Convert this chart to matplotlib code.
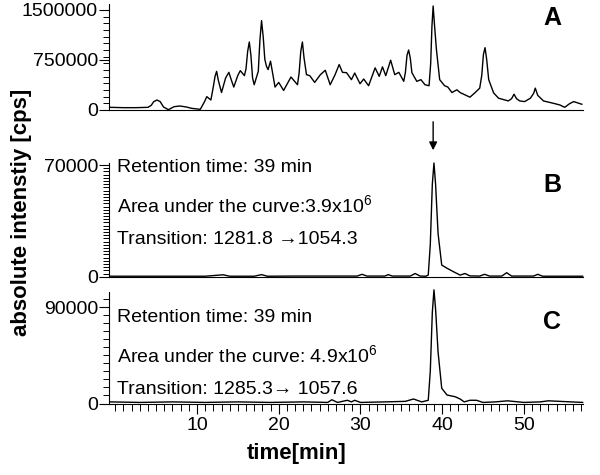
from matplotlib import pyplot as plt
from matplotlib.ticker import MultipleLocator

plt.rcParams['font.family'] = ['Liberation Sans', 'DejaVu Sans']
plt.rcParams['mathtext.fontset'] = 'custom'
plt.rcParams['mathtext.rm'] = 'Liberation Sans'
plt.rcParams['mathtext.it'] = 'Liberation Sans'

# trace A: total ion chromatogram (time in min, intensity in cps)
timeA = [-0.6, 1.0, 2.5, 4.0, 4.4, 4.7, 5.1, 5.5, 5.9, 6.5, 7.2, 7.9, 8.7, 9.35, 10.4,
         10.9, 11.2, 11.7, 12.0, 12.2, 12.4, 12.6, 13.0, 13.5, 13.9, 14.2, 14.5, 15.0,
         15.3, 15.8, 16.0, 16.2, 16.4, 16.6, 16.8, 17.0, 17.5, 17.7, 17.9, 18.1, 18.3,
         18.5, 18.7, 19.0, 19.55, 20.0, 20.6, 21.5, 22.3, 22.5, 22.7, 22.9, 23.1, 23.4,
         23.8, 24.4, 25.1, 25.7, 26.3, 26.9, 27.4, 27.8, 28.3, 28.9, 29.3, 29.95, 30.4,
         31.0, 31.8, 32.3, 32.7, 33.1, 33.7, 34.2, 34.7, 35.3, 35.5, 35.7, 35.9, 36.1,
         36.3, 36.9, 37.4, 37.9, 38.4, 38.6, 38.75, 38.9, 39.05, 39.3, 39.7, 40.3, 40.7,
         41.2, 41.8, 42.2, 42.8, 43.4, 44.0, 44.6, 44.85, 45.05, 45.25, 45.45, 45.7, 46.3,
         46.9, 48.1, 48.5, 48.8, 49.1, 49.5, 50.1, 50.8, 51.2, 51.4, 51.7, 52.4, 53.6,
         54.4, 55.0, 55.6, 56.1, 57.1]
intA = [40000, 35000, 35000, 40000, 70000, 125000, 150000, 125000, 45000, 5000, 50000,
        60000, 45000, 25000, 10000, 120000, 200000, 150000, 350000, 500000, 580000, 450000,
        262000, 480000, 565000, 450000, 344000, 520000, 590000, 515000, 620000, 880000,
        1020000, 820000, 480000, 379000, 580000, 1050000, 1340000, 1100000, 760000,
        656000, 606000, 732000, 344000, 414000, 293000, 495000, 379000, 560000, 880000,
        1020000, 780000, 530000, 515000, 414000, 530000, 596000, 379000, 530000, 682000,
        565000, 560000, 455000, 555000, 394000, 465000, 364000, 632000, 505000, 647000,
        515000, 747000, 530000, 565000, 430000, 560000, 820000, 900000, 780000, 560000,
        430000, 455000, 379000, 364000, 700000, 1250000, 1560000, 1300000, 909000,
        455000, 364000, 344000, 262000, 303000, 262000, 227000, 192000, 257000, 328000,
        520000, 830000, 935000, 760000, 455000, 257000, 177000, 136000, 170000, 237000,
        170000, 136000, 126000, 177000, 250000, 328000, 220000, 136000, 101000, 76000,
        40000, 95000, 126000, 86000]

# trace B: transition 1281.8 -> 1054.3
timeB = [-0.6, 2.0, 5.0, 8.0, 11.0, 13.2, 14.0, 17.0, 17.9, 18.6, 22.0, 26.0, 29.6, 30.2,
         30.8, 33.0, 33.4, 33.9, 36.1, 36.7, 37.3, 38.0, 38.3, 38.55, 38.8, 39.0, 39.2,
         39.5, 39.95, 40.6, 41.4, 42.2, 42.8, 43.4, 44.6, 45.2, 45.8, 47.3, 47.9, 48.5,
         51.2, 51.7, 52.3, 57.2]
intB = [300, 300, 300, 300, 300, 1200, 300, 300, 1300, 300, 400, 400, 400, 1500,
        400, 400, 1300, 400, 400, 2000, 400, 300, 1000, 20000, 58000, 71300, 58000,
        27200, 7300, 5300, 3100, 1000, 2000, 500, 400, 1500, 400, 400, 2500, 400, 400,
        1500, 300, 300]

# trace C: transition 1285.3 -> 1057.6
timeC = [-0.6, 3.0, 7.0, 11.0, 15.0, 19.0, 23.0, 26.0, 26.5, 27.2, 28.4, 28.9, 29.3,
         30.0, 33.0, 35.5, 36.5, 37.5, 38.3, 38.55, 38.8, 39.0, 39.2, 39.5, 39.95, 40.6,
         41.6, 42.2, 42.7, 43.4, 44.2, 45.0, 46.5, 48.0, 50.0, 52.0, 53.0, 57.2]
intC = [1500, 1000, 1500, 1000, 1500, 1000, 1500, 1000, 3500, 1000, 3000, 1500, 3000,
        1000, 1500, 2000, 4200, 1500, 3000, 30000, 85000, 106000, 88000, 48300, 14200,
        7900, 6300, 4200, 1500, 3000, 3000, 1000, 1500, 2500, 1000, 1500, 2500, 1000]

labelsA = ["0", "750000", "1500000"]
infoB = ["Retention time: 39 min", "Area under the curve:3.9x10$^6$", "Transition: 1281.8 \u21921054.3"]
infoC = ["Retention time: 39 min", "Area under the curve: 4.9x10$^6$", "Transition: 1285.3\u2192 1057.6"]

W, H = 600, 475
fig = plt.figure(figsize=(6, 4.75), dpi=100)

def box(top, bottom):
    return [109 / W, 1 - bottom / H, (583 - 109) / W, (bottom - top) / H]

axA = fig.add_axes(box(4, 110))
axB = fig.add_axes(box(163, 276.7))
axC = fig.add_axes(box(292, 403.5))

for ax, t, v in [(axA, timeA, intA), (axB, timeB, intB), (axC, timeC, intC)]:
    ax.plot(t, v, color='black', lw=1.0, clip_on=False)
    ax.set_xlim(-0.77, 57.24)
    ax.spines['top'].set_visible(False)
    ax.spines['right'].set_visible(False)
    ax.tick_params(axis='y', which='major', direction='out', length=7, width=0.8,
                   labelsize=14, pad=1)
    ax.tick_params(axis='y', which='minor', direction='out', length=4, width=0.7)

axA.set_ylim(0, 1590000)
axA.set_yticks([0, 750000, 1500000])
axA.set_yticklabels(labelsA)
axA.yaxis.set_minor_locator(MultipleLocator(100000))

axB.set_ylim(0, 71300)
axB.set_yticks([0, 70000])
axB.yaxis.set_minor_locator(MultipleLocator(2000))

axC.set_ylim(0, 104000)
axC.set_yticks([0, 90000])
axC.yaxis.set_minor_locator(MultipleLocator(7500))

for ax in (axA, axB):
    ax.tick_params(axis='x', which='both', bottom=False, labelbottom=False)

axC.set_xticks([10, 20, 30, 40, 50])
axC.xaxis.set_minor_locator(MultipleLocator(1))
axC.tick_params(axis='x', which='major', direction='out', length=7, width=0.8,
                labelsize=14, pad=3)
axC.tick_params(axis='x', which='minor', direction='out', length=5, width=0.7)

for ax, letter, y in [(axA, "A", 18), (axB, "B", 185), (axC, "C", 322)]:
    fig.text(552 / W, 1 - y / H, letter, fontsize=18, fontweight='bold',
             ha='center', va='center')

for lines, ys in [(infoB, [168, 205, 240]), (infoC, [318, 355, 389])]:
    for s, y in zip(lines, ys):
        fig.text(117 / W, 1 - y / H, s, fontsize=14, ha='left', va='center')

# arrow marking the 39 min peak
axB.annotate("", xy=(38.9, 1 - 153 / H), xycoords=('data', 'figure fraction'),
             xytext=(38.9, 1 - 119 / H), textcoords=('data', 'figure fraction'),
             arrowprops=dict(arrowstyle='-|>', color='black', lw=1, mutation_scale=12))

fig.text(22 / W, 1 - 212 / H, "absolute intenstiy [cps]", rotation=90, fontsize=16,
         fontweight='bold', ha='center', va='center')
fig.text(297 / W, 1 - 453 / H, "time[min]", fontsize=16, fontweight='bold',
         ha='center', va='center')

plt.savefig('out.png', dpi=100)
